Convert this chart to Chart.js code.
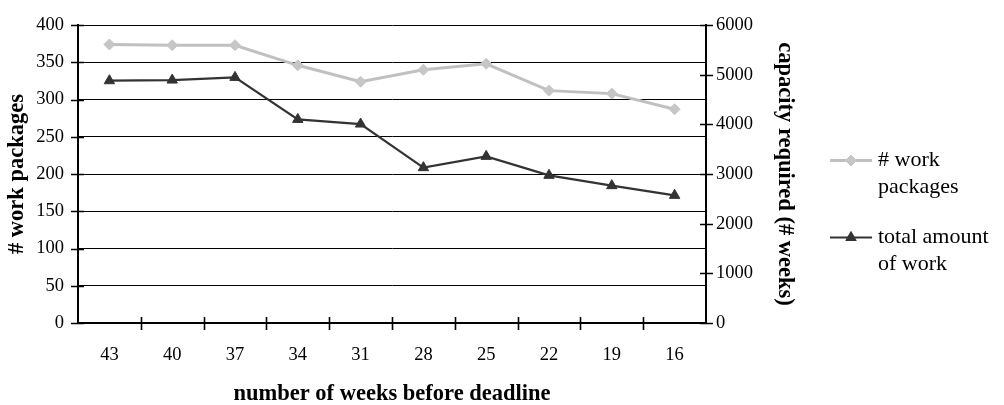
<!DOCTYPE html>
<html>
<head>
<meta charset="utf-8">
<script src="https://cdn.jsdelivr.net/npm/chart.js@4/dist/chart.umd.min.js"></script>
<style>
  html, body { margin: 0; padding: 0; background: #fff; }
  #wrap { width: 1004px; height: 405px; position: relative; }
</style>
</head>
<body>
<div id="wrap"><canvas id="c" width="1004" height="405"></canvas></div>
<script>
// Weeks remaining before the deadline (category axis)
const weeks = ['43', '40', '37', '34', '31', '28', '25', '22', '19', '16'];
// Number of open work packages (left axis)
const workPackages = [374, 373, 373, 346, 324, 340, 348, 312, 308, 287];
// Total amount of work, capacity in weeks (right axis)
const totalWork = [4880, 4893, 4947, 4101, 4007, 3129, 3356, 2974, 2766, 2571];
// Axis ranges
const leftRange = { min: 0, max: 400, step: 50 };
const rightRange = { min: 0, max: 6000, step: 1000 };
// Legend text, split into lines
const legendLines = [['# work', 'packages'], ['total amount', 'of work']];

const FONT = '"Liberation Serif", "Times New Roman", serif';
const TICK_SIZE = 18.5;
const TITLE_SIZE = 22.5;
const LIGHT = '#c0c0c0';
const LIGHT_PT = '#c6c6c6';
const DARK = '#333333';

// Tick marks that cross the axis lines
const crossTicks = {
  id: 'crossTicks',
  afterDraw(chart) {
    const ctx = chart.ctx;
    const a = chart.chartArea;
    const { x, y, y2 } = chart.scales;
    ctx.save();
    ctx.strokeStyle = '#000';
    ctx.lineWidth = 1.6;
    ctx.beginPath();
    y.ticks.forEach((t, i) => {
      const py = Math.round(y.getPixelForTick(i)) + 0.5;
      ctx.moveTo(a.left - 7, py); ctx.lineTo(a.left + 6, py);
    });
    y2.ticks.forEach((t, i) => {
      const py = Math.round(y2.getPixelForTick(i)) + 0.5;
      ctx.moveTo(a.right - 6, py); ctx.lineTo(a.right + 7, py);
    });
    for (let i = 1; i < weeks.length; i++) {
      const px = Math.round((x.getPixelForValue(i - 1) + x.getPixelForValue(i)) / 2) + 0.5;
      ctx.moveTo(px, a.bottom - 6); ctx.lineTo(px, a.bottom + 7);
    }
    ctx.stroke();
    ctx.restore();
  }
};

// Side legend with two-line labels
const sideLegend = {
  id: 'sideLegend',
  afterDraw(chart) {
    const ctx = chart.ctx;
    const rows = [160, 237];
    ctx.save();
    chart.data.datasets.forEach((ds, i) => {
      const yRow = rows[i];
      ctx.strokeStyle = ds.borderColor;
      ctx.lineWidth = ds.borderWidth;
      ctx.beginPath();
      ctx.moveTo(830, yRow + 0.5);
      ctx.lineTo(872, yRow + 0.5);
      ctx.stroke();
      ctx.fillStyle = ds.pointBackgroundColor;
      ctx.strokeStyle = ds.pointBorderColor;
      ctx.lineWidth = 1;
      Chart.helpers.drawPoint(ctx, {
        pointStyle: ds.pointStyle,
        radius: ds.pointRadius,
        rotation: 0,
        borderWidth: 1
      }, 851, yRow + 0.5);
      ctx.fillStyle = '#000';
      ctx.font = '22px ' + FONT;
      ctx.textBaseline = 'middle';
      ctx.textAlign = 'left';
      legendLines[i].forEach((line, j) => {
        ctx.fillText(line, 878, yRow + j * 27);
      });
    });
    ctx.restore();
  }
};

new Chart(document.getElementById('c'), {
  type: 'line',
  data: {
    labels: weeks,
    datasets: [
      {
        label: '# work packages',
        data: workPackages,
        yAxisID: 'y',
        borderColor: LIGHT,
        borderWidth: 3,
        pointStyle: 'rectRot',
        pointRadius: 5.5,
        pointBackgroundColor: LIGHT_PT,
        pointBorderColor: LIGHT_PT,
        pointBorderWidth: 1,
        tension: 0
      },
      {
        label: 'total amount of work',
        data: totalWork,
        yAxisID: 'y2',
        borderColor: DARK,
        borderWidth: 2.2,
        pointStyle: 'triangle',
        pointRadius: 6,
        pointBackgroundColor: DARK,
        pointBorderColor: DARK,
        pointBorderWidth: 1,
        tension: 0
      }
    ]
  },
  options: {
    responsive: false,
    animation: false,
    devicePixelRatio: 1,
    layout: { padding: { top: 24, right: 206, bottom: 0, left: 0 } },
    plugins: {
      legend: { display: false },
      tooltip: { enabled: false }
    },
    scales: {
      x: {
        type: 'category',
        offset: true,
        grid: { display: false, drawTicks: false },
        border: { display: true, color: '#000', width: 2 },
        ticks: { color: '#000', font: { family: FONT, size: TICK_SIZE }, padding: 21, maxRotation: 0 },
        title: {
          display: true,
          text: 'number of weeks before deadline',
          color: '#000',
          font: { family: FONT, size: TITLE_SIZE, weight: 'bold', lineHeight: 1.0 },
          padding: { top: 0, bottom: 0 }
        },
        afterFit(s) { s.height = 82; }
      },
      y: {
        position: 'left',
        min: leftRange.min,
        max: leftRange.max,
        grid: { color: '#000', lineWidth: 1, drawTicks: false },
        border: { display: true, color: '#000', width: 2 },
        ticks: { stepSize: leftRange.step, color: '#000', font: { family: FONT, size: TICK_SIZE }, padding: 14 },
        title: {
          display: true,
          text: '# work packages',
          color: '#000',
          font: { family: FONT, size: TITLE_SIZE, weight: 'bold' },
          padding: { top: 4, bottom: 0 }
        },
        afterFit(s) { s.width = 78; }
      },
      y2: {
        position: 'right',
        min: rightRange.min,
        max: rightRange.max,
        grid: { drawOnChartArea: false, drawTicks: false },
        border: { display: true, color: '#000', width: 2 },
        ticks: {
          stepSize: rightRange.step,
          color: '#000',
          font: { family: FONT, size: TICK_SIZE },
          padding: 10,
          callback: (v) => String(v)
        },
        title: {
          display: true,
          text: 'capacity required (# weeks)',
          color: '#000',
          font: { family: FONT, size: TITLE_SIZE, weight: 'bold' },
          padding: { top: 0, bottom: 0 }
        },
        afterFit(s) { s.width = 92; }
      }
    }
  },
  plugins: [crossTicks, sideLegend]
});
</script>
</body>
</html>
